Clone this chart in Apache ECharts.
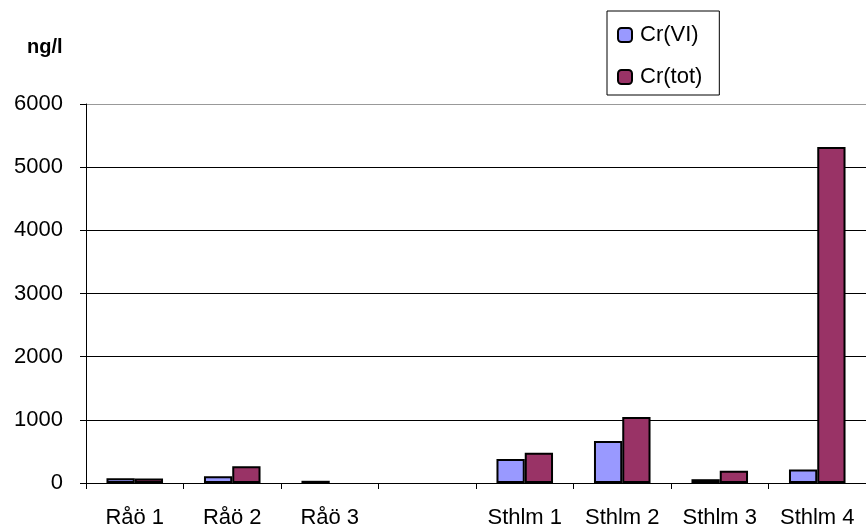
<!DOCTYPE html>
<html>
<head>
<meta charset="utf-8">
<script src="https://cdn.jsdelivr.net/npm/echarts@6/dist/echarts.min.js"></script>
<style>
  html, body { margin: 0; padding: 0; background: #fff; }
  #chart { width: 866px; height: 529px; }
</style>
</head>
<body>
<div id="chart"></div>
<script>
var categories = ['Råö 1', 'Råö 2', 'Råö 3', '', 'Sthlm 1', 'Sthlm 2', 'Sthlm 3', 'Sthlm 4'];
var crVI = [75, 105, 35, null, 380, 665, 60, 215];
var crTot = [70, 265, null, null, 480, 1045, 195, 5320];
var yTicks = [0, 1000, 2000, 3000, 4000, 5000, 6000];

var myChart = echarts.init(document.getElementById('chart'));
var font = 'Liberation Sans, Arial, sans-serif';

option = {
    animation: false,
    textStyle: {
        fontFamily: font
    },
    graphic: [{
        type: 'text',
        left: 27,
        top: 37,
        style: {
            text: 'ng/l',
            font: 'bold 20px ' + font,
            fill: '#000'
        }
    }],
    legend: {
        orient: 'vertical',
        left: 607,
        top: 11,
        padding: [13, 17, 7, 10],
        itemGap: 20,
        itemWidth: 14,
        itemHeight: 14,
        borderColor: '#000',
        borderWidth: 1,
        textStyle: {
            fontSize: 22,
            color: '#000',
            padding: [2, 0, 0, 3]
        },
        data: ['Cr(VI)', 'Cr(tot)']
    },
    grid: {
        left: 86,
        top: 104,
        height: 380,
        right: -3
    },
    xAxis: {
        type: 'category',
        data: categories,
        axisLine: {
            lineStyle: { color: '#000', width: 1 }
        },
        axisTick: {
            show: true,
            length: 6,
            lineStyle: { color: '#000' }
        },
        axisLabel: {
            fontSize: 22,
            color: '#000',
            margin: 24,
            interval: 0
        },
        splitLine: { show: false }
    },
    yAxis: {
        type: 'value',
        min: 0,
        max: 6000,
        interval: 1000,
        axisLine: {
            show: true,
            lineStyle: { color: '#000', width: 1 }
        },
        axisTick: {
            show: true,
            length: 6,
            lineStyle: { color: '#000' }
        },
        axisLabel: {
            fontSize: 22,
            color: '#000',
            margin: 23,
            formatter: function (v) {
                return yTicks.indexOf(v) >= 0 ? String(v) : '';
            }
        },
        splitLine: {
            show: true,
            lineStyle: {
                color: ['#000', '#000', '#000', '#000', '#000', '#000', '#999'],
                width: 1
            }
        }
    },
    series: [{
        name: 'Cr(VI)',
        type: 'bar',
        data: crVI,
        barGap: '0%',
        barCategoryGap: '42%',
        itemStyle: {
            color: '#9999ff',
            borderColor: '#000',
            borderWidth: 2
        }
    }, {
        name: 'Cr(tot)',
        type: 'bar',
        data: crTot,
        barGap: '0%',
        barCategoryGap: '42%',
        itemStyle: {
            color: '#993366',
            borderColor: '#000',
            borderWidth: 2
        }
    }]
};

myChart.setOption(option);
</script>
</body>
</html>
